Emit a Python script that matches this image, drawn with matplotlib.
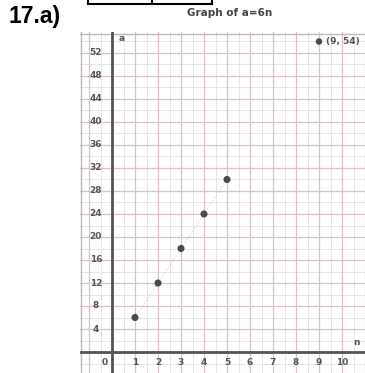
import matplotlib
matplotlib.use("Agg")
import matplotlib.pyplot as plt
import numpy as np
from matplotlib.lines import Line2D

# Data
n_vals = [1, 2, 3, 4, 5]
a_vals = [6, 12, 18, 24, 30]
far_point = (9, 54)
far_label = "(9, 54)"
x_ticks = [1, 2, 3, 4, 5, 6, 7, 8, 9, 10]
y_ticks = [4, 8, 12, 16, 20, 24, 28, 32, 36, 40, 44, 48, 52]
title = "Graph of a=6n"
problem_label = "17.a)"

W, H = 365, 373
fig = plt.figure(figsize=(W / 100, H / 100), dpi=100)
fig.patch.set_facecolor("white")

# axes occupying the graph-paper region
left, right, top, bottom = 80, 365, 32, 373
ax = fig.add_axes([left / W, 1 - bottom / H, (right - left) / W, (bottom - top) / H])
x0, xs = 112, 23.0      # pixel of n=0, px per unit
y0, ys = 352, 5.75      # pixel of a=0, px per unit
ax.set_xlim((left - x0) / xs, (right - x0) / xs)
ax.set_ylim((y0 - bottom) / ys, (y0 - top) / ys)
ax.set_facecolor("white")
for s in ax.spines.values():
    s.set_visible(False)
ax.set_xticks([])
ax.set_yticks([])

xmin, xmax = ax.get_xlim()
ymin, ymax = ax.get_ylim()

# minor grid
for xv in np.arange(-1.5, 11.01, 0.5):
    ax.axvline(xv, color="#e6e6e6", lw=0.7, zorder=0)
for yv in np.arange(-2, 56, 2):
    ax.axhline(yv, color="#e6e6e6", lw=0.7, zorder=0)
# major grid
for xv in range(-1, 12):
    ax.axvline(xv, color="#d9c3c3", lw=0.9, zorder=0.5)
for yv in range(0, 56, 4):
    ax.axhline(yv, color="#d9c3c3", lw=0.9, zorder=0.5)
ax.axhline(ymax - 0.35, color="#bbbbbb", lw=1.0, zorder=0.6)
ax.axvline(xmin + 0.05, color="#bbbbbb", lw=1.0, zorder=0.6)

# main axes lines
ax.axvline(0, color="#555555", lw=2.0, zorder=2)
ax.axhline(0, color="#555555", lw=2.0, zorder=2)

# faint trend line
ax.plot(n_vals, a_vals, linestyle=(0, (1, 2)), color="#cfcfcf", lw=0.8, zorder=1)

# points
ax.scatter(n_vals, a_vals, s=26, color="#4a4a4a", zorder=3, edgecolors="none")
ax.scatter([far_point[0]], [far_point[1]], s=22, color="#4a4a4a", zorder=3, edgecolors="none")
ax.text(far_point[0] + 0.3, far_point[1], far_label, fontsize=6.5, color="#555555",
        fontweight="bold", ha="left", va="center", zorder=3)

# tick labels
for yv in y_ticks:
    ax.text(-0.7, yv, str(yv), fontsize=6.5, color="#555555", fontweight="bold",
            ha="center", va="center", zorder=3)
for xv in x_ticks:
    ax.text(xv, -1.75, str(xv), fontsize=6.5, color="#555555", fontweight="bold",
            ha="center", va="center", zorder=3)
ax.text(-0.3, -1.75, "0", fontsize=6.5, color="#555555", fontweight="bold",
        ha="center", va="center", zorder=3)

# axis names
ax.text(0.43, 54.6, "a", fontsize=6.5, color="#555555", fontweight="bold",
        ha="center", va="center", zorder=3)
ax.text(10.65, 1.6, "n", fontsize=6.5, color="#555555", fontweight="bold",
        ha="center", va="center", zorder=3)

# title
fig.text(230 / W, 1 - 13 / H, title, fontsize=7.5, color="#444444", fontweight="bold",
         ha="center", va="center")

# problem label
fig.text(8 / W, 1 - 17 / H, problem_label, fontsize=16.5, fontweight="bold",
         family="Liberation Sans", color="black", ha="left", va="center")

# partial table box at top
def px_line(x1, y1, x2, y2, lw=1.5):
    fig.add_artist(Line2D([x1 / W, x2 / W], [1 - y1 / H, 1 - y2 / H],
                          color="black", lw=lw, transform=fig.transFigure))

px_line(88, 4, 212, 4)
px_line(88, 0, 88, 4)
px_line(152, 0, 152, 4)
px_line(212, 0, 212, 4)

fig.savefig("out.png", dpi=100, facecolor="white")
